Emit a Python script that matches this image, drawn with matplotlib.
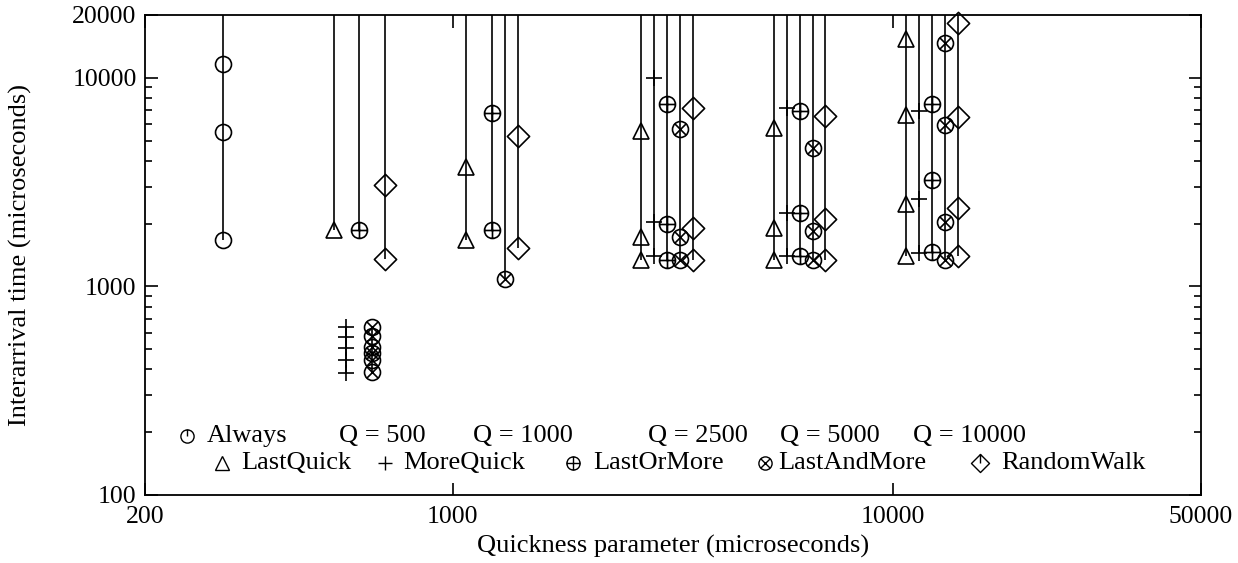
import matplotlib
matplotlib.use('Agg')
import matplotlib.pyplot as plt
from matplotlib.path import Path
from matplotlib.ticker import LogLocator, NullFormatter, NullLocator

plt.rcParams['font.family'] = ['Liberation Serif', 'DejaVu Serif']

# valeurs (échelle log-log)
q_values = [500, 1000, 2500, 5000, 10000]

always_x = 300
always_y = [11640, 5490, 1670]

lastquick_x = [536, 1071, 2677, 5357, 10690]
lastquick_y = [[1866], [3755, 1670], [5527, 1733, 1340], [5740, 1902, 1340],
               [15330, 6645, 2487, 1400]]
lastquick_up = [True, True, True, True, True]

morequick_x = [572, 1146, 2866, 5730, 11440]
morequick_y = [[641, 574, 509, 444, 383], [], [9965, 2046, 1400], [7155, 2244, 1400],
               [6945, 2618, 1453]]
morequick_up = [False, False, True, True, True]

lastormore_x = [613, 1226, 3066, 6130, 12240]
lastormore_y = [[1866], [6771, 1866], [7500, 1988, 1340], [6945, 2244, 1400],
                [7500, 3240, 1468]]
lastormore_up = [True, True, True, True, True]

lastandmore_x = [655, 1312, 3281, 6560, 13100]
lastandmore_y = [[641, 579, 514, 478, 444, 390], [1082], [5673, 1733, 1340],
                 [4600, 1853, 1340], [14760, 5951, 2046, 1340]]
lastandmore_up = [False, True, True, True, True]

randomwalk_x = [702, 1404, 3510, 7020, 14060]
randomwalk_y = [[3069, 1350], [5230, 1525], [7155, 1915, 1340], [6572, 2110, 1340],
                [18290, 6478, 2372, 1400]]
randomwalk_up = [True, True, True, True, True]


def seg(a, b):
    return Path([a, b], [Path.MOVETO, Path.LINETO])


circle = Path.unit_circle()
d = 0.7071
m_circ_plus = Path.make_compound_path(circle, seg((-1, 0), (1, 0)), seg((0, -1), (0, 1)))
m_circ_x = Path.make_compound_path(circle, seg((-d, -d), (d, d)), seg((-d, d), (d, -d)))
m_circ_tick = Path.make_compound_path(circle, seg((0, 0), (0, 1)))
diamond = Path([(0, 1), (1, 0), (0, -1), (-1, 0), (0, 1)],
               [Path.MOVETO, Path.LINETO, Path.LINETO, Path.LINETO, Path.CLOSEPOLY])
m_diam_tick = Path.make_compound_path(diamond, seg((0, 0), (0, 1)))

fig = plt.figure(figsize=(12.38, 5.63), dpi=100)
ax = fig.add_axes([0.1171, 0.1208, 0.853, 0.8526])
ax.set_xscale('log')
ax.set_yscale('log')
ax.set_xlim(200, 50000)
ax.set_ylim(100, 20000)
ytop = 20000

lw = 1.2
mk = dict(color='black', mfc='none', mew=lw, linestyle='none', clip_on=False)

# Always
ax.vlines(always_x, min(always_y), ytop, color='black', lw=lw)
ax.plot([always_x] * len(always_y), always_y, marker='o', ms=11.5, **mk)

series = [
    (lastquick_x, lastquick_y, lastquick_up, '^', 12),
    (morequick_x, morequick_y, morequick_up, '+', 11),
    (lastormore_x, lastormore_y, lastormore_up, m_circ_plus, 11.5),
    (lastandmore_x, lastandmore_y, lastandmore_up, m_circ_x, 11.5),
    (randomwalk_x, randomwalk_y, randomwalk_up, diamond, 16),
]
for xs, ys, ups, marker, ms in series:
    for x, yv, up in zip(xs, ys, ups):
        if not yv:
            continue
        top = ytop if up else max(yv)
        ax.vlines(x, min(yv), top, color='black', lw=lw)
        ax.plot([x] * len(yv), yv, marker=marker, ms=ms, **mk)

# axes, ticks
ax.set_xticks([200, 1000, 10000, 50000])
ax.set_xticklabels(['200', '1000', '10000', '50000'])
ax.xaxis.set_minor_locator(NullLocator())
ax.set_yticks([100, 1000, 10000, 20000])
ax.set_yticklabels(['100', '1000', '10000', '20000'])
ax.yaxis.set_minor_locator(LogLocator(base=10, subs=range(2, 10)))
ax.yaxis.set_minor_formatter(NullFormatter())
ax.tick_params(which='both', direction='in', top=True, right=True, labelsize=18.5, width=1.2)
ax.tick_params(which='major', length=9)
ax.tick_params(which='minor', length=5)
ax.tick_params(axis='x', pad=8)
ax.tick_params(axis='y', pad=6)
for s in ax.spines.values():
    s.set_linewidth(1.3)

ax.set_xlabel('Quickness parameter (microseconds)', fontsize=19)
ax.xaxis.set_label_coords(0.5, -0.083)
ax.set_ylabel('Interarrival time (microseconds)', fontsize=19)
ax.yaxis.set_label_coords(-0.107, 0.5)

# légende (placée à la main comme dans l'original)
tr = ax.transAxes
fs = 19
lg = dict(color='black', mfc='none', mew=1.0, transform=tr, clip_on=False, linestyle='none')
row1, row2 = 0.123, 0.0665
ax.plot([0.0395], [row1], marker=m_circ_tick, ms=9.5, **lg)
ax.text(0.0584, row1, 'Always', transform=tr, fontsize=fs, va='center')
for xq, q in zip([0.1837, 0.3106, 0.4763, 0.6013, 0.7269], q_values):
    ax.text(xq, row1, 'Q = %d' % q, transform=tr, fontsize=fs, va='center')

legend_items = [
    (0.0726, 0.0916, '^', 9.5, 'LastQuick'),
    (0.2273, 0.2443, '+', 9.5, 'MoreQuick'),
    (0.4053, 0.4242, m_circ_plus, 9.5, 'LastOrMore'),
    (0.5870, 0.6000, m_circ_x, 9.5, 'LastAndMore'),
    (0.7910, 0.8106, m_diam_tick, 13, 'RandomWalk'),
]
for xm, xt, marker, ms, name in legend_items:
    ax.plot([xm], [row2], marker=marker, ms=ms, **lg)
    ax.text(xt, row2, name, transform=tr, fontsize=fs, va='center')

fig.savefig('out.png', dpi=100)
